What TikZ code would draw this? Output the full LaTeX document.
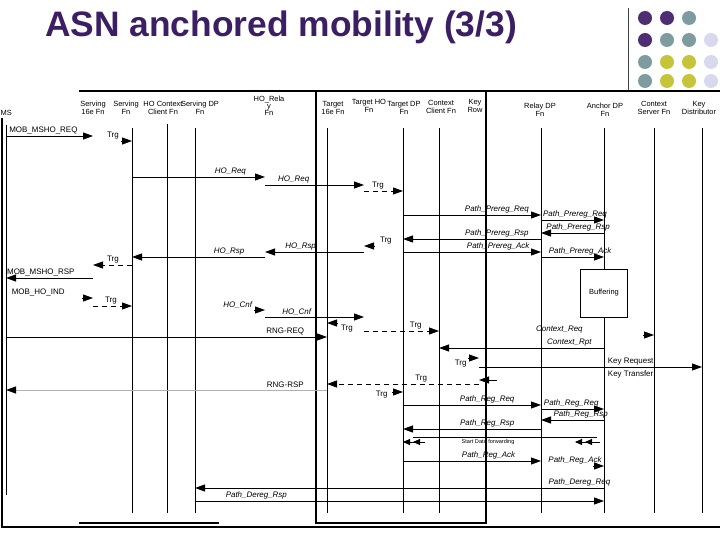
\documentclass[tikz,border=0pt]{standalone}
\usepackage{fontspec}
\setmainfont{Liberation Sans}
\definecolor{TitlePurple}{HTML}{3C1E64}
\definecolor{DotPurple}{HTML}{4E2D72}
\definecolor{DotTeal}{HTML}{7E9C9F}
\definecolor{DotYellow}{HTML}{C6C43A}
\definecolor{DotLilac}{HTML}{D9D9EE}
\usetikzlibrary{arrows.meta,positioning,calc}
\def\lifeend{513}

\begin{document}
\begin{tikzpicture}
[x=1bp,y=-1bp,
   hd/.style={font=\fontsize{7.5}{8.5}\selectfont,align=center,inner sep=0pt},
   lb/.style={font=\fontsize{8}{9}\selectfont,above=.5bp,inner sep=1bp},
   lbi/.style={lb,font=\fontsize{8}{9}\selectfont\itshape},
   life/.style={line width=.9bp},
   frame/.style={line width=1.3bp},
   msg/.style={line width=.9bp,-{Triangle[length=10bp,width=7bp]}},
   trg/.style={msg,dash pattern=on 5bp off 4bp},
   rng/.style={line width=.9bp,gray!60,-{Triangle[length=10bp,width=7bp,color=black]}},
   dbl/.style={line width=.9bp,-{Triangle[length=7bp,width=6bp,sep=3bp]Triangle[length=7bp,width=6bp]}},
   stub/.style={shorten <=#1}]
\fill[white] (0,0) rectangle (720,540);
\useasboundingbox (0,0) rectangle (720,540);

%% title and corner dots
\node[font=\fontsize{35.5}{37}\selectfont\bfseries,text=TitlePurple,anchor=base west,
inner sep=0pt] (title) at (45,37) {ASN anchored mobility (3/3)};
\draw[line width=1bp,black!75] (628,8) -- (628,90);
\foreach \cols/\y in {{DotPurple,DotPurple,DotTeal,white}/18,
   {DotPurple,DotTeal,DotTeal,DotLilac}/40,
   {DotTeal,DotYellow,DotYellow,DotLilac}/62,
   {DotTeal,DotYellow,DotYellow,DotLilac}/81}
   \foreach \c [count=\i] in \cols
      \fill[\c] ({623+22*\i},\y) circle (7);

%% frames
\draw[frame] (79,91) -- (720,91);
\draw[frame] (2,118) -- (2,527) -- (720,527);
\draw[frame] (79,523) -- (219,523);
\draw[frame] (316,91) rectangle (486,523);

%% heads
\node[hd,anchor=east] (mshd) at (12,113) {MS};
\node[hd] (s16hd) at (93,108) {Serving\\16e Fn};
\node[hd] (sfnhd) at (126,108) {Serving\\Fn};
\node[hd] (hocchd) at (163,108) {HO Context\\Client Fn};
\node[hd] (sdphd) at (200,108) {Serving DP\\Fn};
\node[hd,font=\fontsize{7.5}{7.2}\selectfont] (horhd) at (269,106) {HO\_Rela\\y\\Fn};
\node[hd] (t16hd) at (333,108) {Target\\16e Fn};
\node[hd] (thohd) at (369,106) {Target HO\\Fn};
\node[hd] (tdphd) at (404,108) {Target DP\\Fn};
\node[hd] (tcchd) at (441,107) {Context\\Client Fn};
\node[hd] (krowhd) at (475,106) {Key\\Row};
\node[hd] (rdphd) at (540,110) {Relay DP\\Fn};
\node[hd] (adphd) at (605,110) {Anchor DP\\Fn};
\node[hd] (csrvhd) at (654,108) {Context\\Server Fn};
\node[hd] (kdisthd) at (699,108) {Key\\Distributor};

%% lifelines
\coordinate (ms) at (6,125);
\coordinate (s16) at (93,128);
\coordinate (sfn) at (132,128);
\coordinate (hocc) at (167,124);
\coordinate (sdp) at (195,128);
\coordinate (hor) at (265,128);
\coordinate (t16) at (327,128);
\coordinate (tho) at (364,128);
\coordinate (tdp) at (403,128);
\coordinate (tcc) at (439,128);
\coordinate (krow) at (479,128);
\coordinate (rdp) at (541,128);
\coordinate (adp) at (604,128);
\coordinate (csrv) at (654,128);
\coordinate (kdist) at (702,128);
\draw[life] (ms) -- (ms |- 0,495);
\foreach \n in {sfn,hocc,sdp,t16,tdp,tcc,rdp,csrv,kdist}
   \draw[life] (\n) -- (\n |- 0,\lifeend);
\node[draw,line width=.9bp,minimum width=47bp,minimum height=48bp,
font=\fontsize{7.5}{9}\selectfont] (buf) at (adp |- 0,293) {Buffering};
\draw[life] (adp) -- (buf.north);
\draw[life] (buf.south) -- (adp |- 0,\lifeend);

%% handover request
\draw[msg] (ms |- 0,136) -- (s16 |- 0,136) node[lb,pos=.43] {MOB\_MSHO\_REQ};
\draw[trg,stub=28bp] (s16 |- 0,141) -- (sfn |- 0,141) node[lb,pos=.51] {Trg};
\draw[msg] (sfn |- 0,177) -- (hor |- 0,177) node[lbi,pos=.74] {HO\_Req};
\draw[msg] (hor |- 0,185) -- (tho |- 0,185) node[lbi,pos=.29] {HO\_Req};
\draw[trg] (tho |- 0,191) -- (tdp |- 0,191) node[lb,pos=.36] {Trg};
\draw[msg] (tdp |- 0,215) -- (rdp |- 0,215) node[lbi,pos=.68] {Path\_Prereg\_Req};
\draw[msg] (rdp |- 0,220) -- (adp |- 0,220) node[lbi,pos=.54] {Path\_Prereg\_Req};
\draw[msg] (adp |- 0,233) -- (rdp |- 0,233) node[lbi,pos=.41] {Path\_Prereg\_Rsp};
\draw[msg] (rdp |- 0,239) -- (tdp |- 0,239) node[lbi,pos=.32] {Path\_Prereg\_Rsp};
\draw[trg,stub=28bp] (tdp |- 0,246) -- (tho |- 0,246) node[lb,pos=.44] {Trg};
\draw[msg] (tho |- 0,252) -- (hor |- 0,252) node[lbi,pos=.64] {HO\_Rsp};
\draw[msg] (tdp |- 0,252) -- (rdp |- 0,252) node[lbi,pos=.69] {Path\_Prereg\_Ack};
\draw[msg] (rdp |- 0,257) -- (adp |- 0,257) node[lbi,pos=.62] {Path\_Prereg\_Ack};
\draw[msg] (hor |- 0,257) -- (sfn |- 0,257) node[lbi,pos=.27] {HO\_Rsp};
\draw[trg] (sfn |- 0,265) -- (s16 |- 0,265) node[lb,pos=.49] {Trg};
\draw[msg] (s16 |- 0,278) -- (ms |- 0,278) node[lb,pos=.6] {MOB\_MSHO\_RSP};

%% handover indication, ranging
\draw[msg,stub=76bp] (ms |- 0,298) -- (s16 |- 0,298) node[lb,pos=.37] {MOB\_HO\_IND};
\draw[trg] (s16 |- 0,306) -- (sfn |- 0,306) node[lb,pos=.46] {Trg};
\draw[msg,stub=59bp] (sdp |- 0,310) -- (hor |- 0,310) node[lbi,pos=.61] {HO\_Cnf};
\draw[msg] (hor |- 0,317) -- (tho |- 0,317) node[lbi,pos=.32] {HO\_Cnf};
\draw[msg,stub=26bp] (tho |- 0,323) -- (t16 |- 0,323) node[lb,below=.5bp,pos=.46] {Trg};
\draw[trg] (tho |- 0,331) -- (tcc |- 0,331) node[lb,pos=.69] {Trg};
\draw[msg] (ms |- 0,337) -- (t16 |- 0,337) node[lb,pos=.87] {RNG-REQ};
\draw[msg,stub=204bp] (tcc |- 0,335) -- (csrv |- 0,335) node[lbi,pos=.56] {Context\_Req};
\draw[msg] (adp |- 0,348) -- (tcc |- 0,348) node[lbi,pos=.21] {Context\_Rpt};
\draw[msg,stub=29bp] (tcc |- 0,358) -- (krow |- 0,358) node[lb,below=1bp,pos=.54] {Trg};
\draw[msg] (krow |- 0,367) -- (kdist |- 0,367) node[lb,pos=.68] {Key Request};
\draw[msg,stub=205bp] (kdist |- 0,380) -- (krow |- 0,380) node[lb,pos=.32] {Key Transfer};
\draw[trg] (krow |- 0,384) -- (t16 |- 0,384) node[lb,pos=.38] {Trg};
\draw[rng] (t16 |- 0,390) -- (ms |- 0,390) node[lb,text=black,pos=.13] {RNG-RSP};
\draw[msg,stub=65bp] (t16 |- 0,392) -- (tdp |- 0,392) node[lb,below=-2bp,pos=.72] {Trg};

%% path registration
\draw[msg] (tdp |- 0,405) -- (rdp |- 0,405) node[lbi,pos=.61] {Path\_Reg\_Req};
\draw[msg] (rdp |- 0,409) -- (adp |- 0,409) node[lbi,pos=.48] {Path\_Reg\_Req};
\draw[msg] (adp |- 0,420) -- (rdp |- 0,420) node[lbi,pos=.37] {Path\_Reg\_Rsp};
\draw[msg] (rdp |- 0,429) -- (tdp |- 0,429) node[lbi,pos=.39] {Path\_Reg\_Rsp};
\draw[line width=.8bp] ($(tdp |- 0,437)+(10,0)$) -- ($(adp |- 0,437)+(-7,0)$);
\node[font=\fontsize{5.6}{6}\selectfont,inner sep=0pt] (sdf) at (488,442) {Start Data forwarding};
\draw[dbl,stub=116bp] (rdp |- 0,442) -- (tdp |- 0,442);
\draw[dbl,shorten <=4bp,shorten >=34bp] (adp |- 0,442) -- (rdp |- 0,442);
\draw[msg] (tdp |- 0,461) -- (rdp |- 0,461) node[lbi,pos=.62] {Path\_Reg\_Ack};
\draw[msg,stub=52bp] (rdp |- 0,466) -- (adp |- 0,466) node[lbi,pos=.54] {Path\_Reg\_Ack};
\draw[msg] (adp |- 0,488) -- (sdp |- 0,488) node[lbi,pos=.06] {Path\_Dereg\_Req};
\draw[msg] (sdp |- 0,501) -- (adp |- 0,501) node[lbi,pos=.15] {Path\_Dereg\_Rsp};
%%
\end{tikzpicture}
\end{document}
